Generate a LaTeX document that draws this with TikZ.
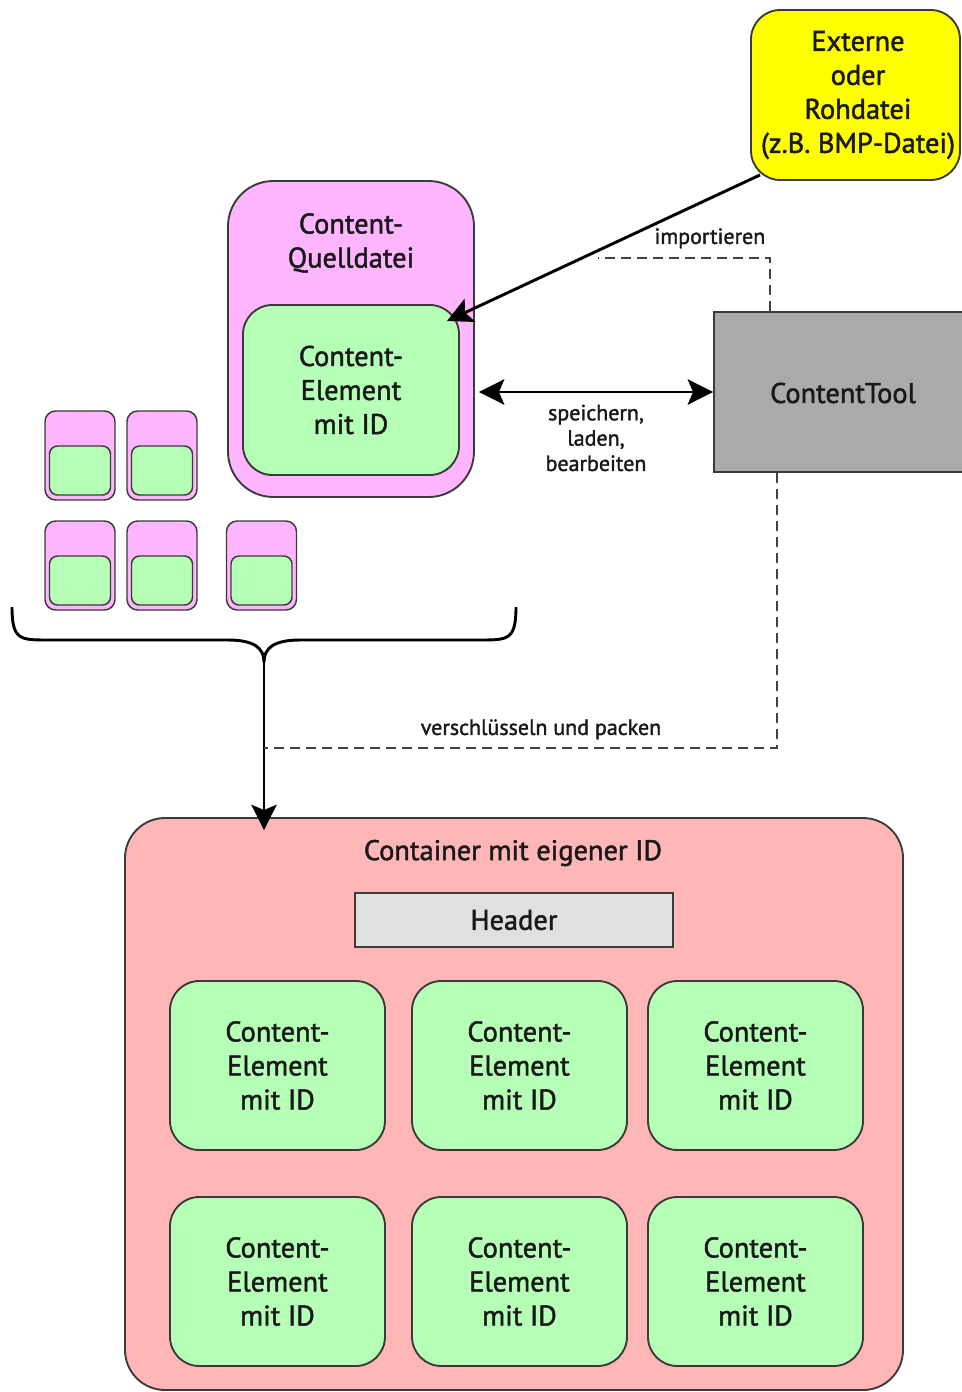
\documentclass[tikz,border=0pt]{standalone}
\usepackage{fontspec}
\setmainfont{PT Sans}[UprightFeatures={FakeBold=1.6}]
\usetikzlibrary{arrows.meta,calc}

\definecolor{edge}{HTML}{3A3A3A}
\definecolor{srcpink}{HTML}{FFB6FF}
\definecolor{elgreen}{HTML}{B6FFB6}
\definecolor{rawyellow}{HTML}{FFFF00}
\definecolor{toolgray}{HTML}{AAAAAA}
\definecolor{contred}{HTML}{FFB6B6}
\definecolor{headgray}{HTML}{E0E0E0}

\tikzset{
  wh/.style 2 args={minimum width=#1*0.75pt, minimum height=#2*0.75pt, inner sep=0pt},
  bigtext/.style={font=\fontsize{21.3}{25.5}\selectfont, align=center, text=black!90},
  smalltext/.style={font=\fontsize{16.5}{19}\selectfont, align=center, text=black!90},
  boxline/.style={draw=edge, line width=1.4pt},
  element/.style={boxline, fill=elgreen, rounded corners=22pt, wh={215}{169}, bigtext},
  minisrc/.style={boxline, line width=1.1pt, fill=srcpink, rounded corners=8pt, wh={70}{89}},
  minielem/.style={boxline, line width=1.1pt, fill=elgreen, rounded corners=6pt, wh={61}{49}},
  flow/.style={line width=2.2pt, -{Stealth[length=19pt,width=19pt,inset=4pt]}},
  flowboth/.style={line width=2.2pt, {Stealth[length=19pt,width=19pt,inset=4pt]}-{Stealth[length=19pt,width=19pt,inset=4pt]}},
  toolline/.style={draw=black!75, line width=1.4pt, dash pattern=on 7.5pt off 4.5pt},
}

\begin{document}
\begin{tikzpicture}[x=0.75pt, y=-0.75pt]
\useasboundingbox (0,0) rectangle (961,1392);

% external raw file
\node[boxline, fill=rawyellow, rounded corners=22pt, wh={209}{170}] (ext) at (855.5,95) {};
\node[bigtext] (extname) at (858,95) {Externe\\oder\\Rohdatei\\(z.B. BMP-Datei)};

% content source file with one element
\node[boxline, fill=srcpink, rounded corners=34pt, wh={246}{316}] (src) at (351,339) {};
\node[bigtext] (srctitle) at (351,243) {Content-\\Quelldatei};
\node[element, wh={216}{170}] (srcel) at (351,390) {Content-\\Element\\mit ID};

% the tool
\node[boxline, fill=toolgray, wh={262}{160}] (tool) at (845,392) {};
\node[bigtext] (toolname) at (843,393) {ContentTool};

% further source files
\foreach \cx/\cy [count=\i] in {80/455.5, 162/455.5, 80/565.5, 162/565.5, 261.5/565.5}{
  \node[minisrc] (mini\i) at (\cx,\cy) {};
  \node[minielem] (minie\i) at ($(mini\i)+(0,15)$) {};
}

% brace collecting all source files
\coordinate (tip) at (264,662);
\draw[line width=2.2pt, line join=round]
  (12,607) .. controls (12,640) and (20,640) .. (48,640) -- (228,640)
  .. controls (254,640) and (264,648) .. (tip)
  .. controls (264,648) and (274,640) .. (300,640) -- (480,640)
  .. controls (508,640) and (516,640) .. (516,607);

% container
\node[boxline, fill=contred, rounded corners=30pt, wh={778}{572}] (cont) at (514,1104) {};
\node[bigtext] (conttitle) at (513,853) {Container mit eigener ID};
\node[boxline, line width=1.2pt, fill=headgray, wh={318}{54}, bigtext] (head) at (514,920) {Header};

\foreach \cx [count=\i] in {277.5,519.5,755.5}{
  \node[element] (ea\i) at (\cx,1065.5) {Content-\\Element\\mit ID};
  \node[element] (eb\i) at (\cx,1281.5) {Content-\\Element\\mit ID};
}

% import
\coordinate (impfrom) at ($(ext.south west)+(10,-6)$);
\coordinate (impjoin) at (598,258);
\draw[flow] (impfrom) -- ($(srcel.north east)+(-13,17)$);
\draw[toolline] (770,0 |- tool.north) -- (770,258) -- (impjoin);
\node[smalltext, anchor=south east] (implabel) at (770,253) {importieren};

% save / load / edit
\draw[flowboth] ($(src.east |- tool.west)+(4,0)$) -- (tool.west);
\node[smalltext, anchor=north] (edlabel) at (596,400) {speichern,\\laden,\\bearbeiten};

% packing into the container
\draw[flow] (tip) -- ($(tip |- cont.north)+(0,13)$);
\coordinate (packjoin) at (264,748);
\draw[toolline] (777,0 |- tool.south) -- (777,748) -- (packjoin);
\node[smalltext, anchor=south] (packlabel) at (541,744) {verschlüsseln und packen};
\end{tikzpicture}
\end{document}
